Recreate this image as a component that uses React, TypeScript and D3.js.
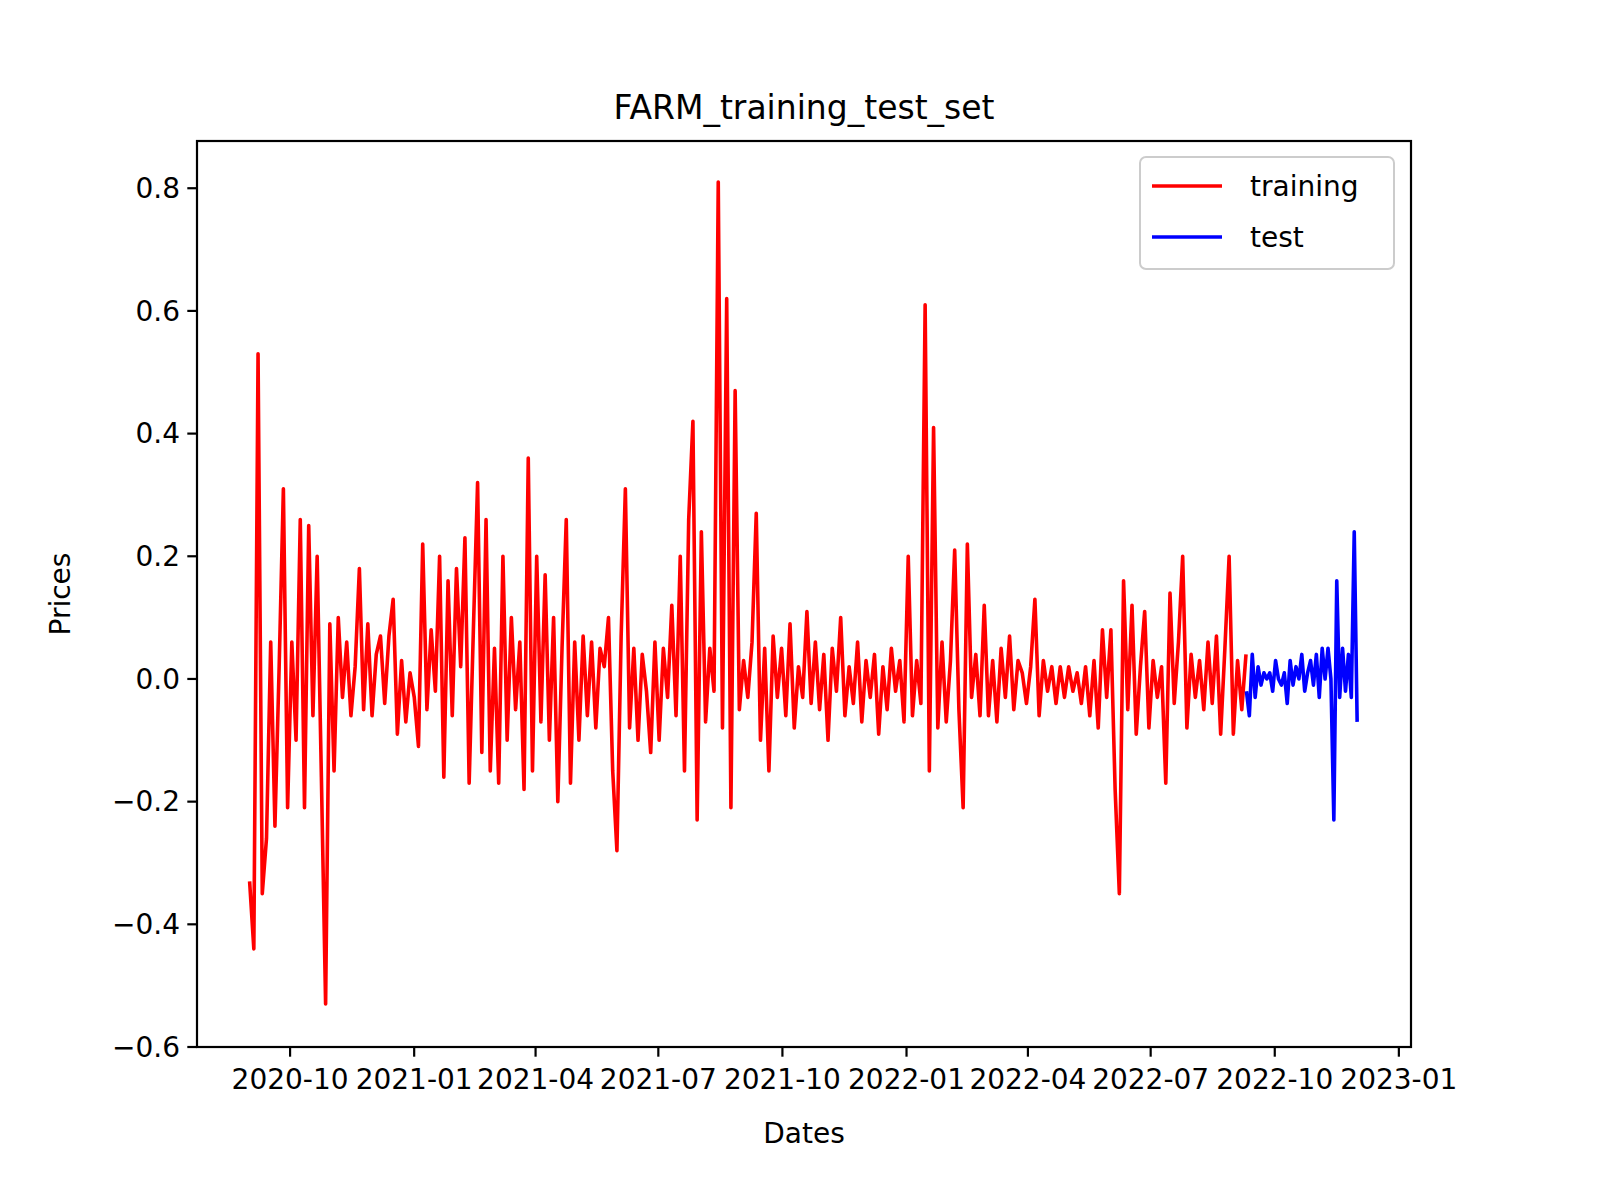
import React from "react";
import * as d3 from "d3";

const trainStart = "2020-09-01";
const trainStepDays = 3.13;
const testStart = "2022-09-10";
const testStepDays = 2.16;
const trainValues = [
-0.33,-0.44,0.53,-0.35,-0.26,0.06,-0.24,0.02,0.31,-0.21,0.06,-0.10,0.26,-0.21,0.25,-0.06,0.20,-0.16,-0.53,0.09,
-0.15,0.10,-0.03,0.06,-0.06,0.02,0.18,-0.05,0.09,-0.06,0.04,0.07,-0.04,0.07,0.13,-0.09,0.03,-0.07,0.01,-0.03,
-0.11,0.22,-0.05,0.08,-0.02,0.20,-0.16,0.16,-0.06,0.18,0.02,0.23,-0.17,0.08,0.32,-0.12,0.26,-0.15,0.05,-0.17,
0.20,-0.10,0.10,-0.05,0.06,-0.18,0.36,-0.15,0.20,-0.07,0.17,-0.10,0.10,-0.20,0.05,0.26,-0.17,0.06,-0.10,0.07,
-0.06,0.06,-0.08,0.05,0.02,0.10,-0.15,-0.28,0.07,0.31,-0.08,0.05,-0.10,0.04,-0.02,-0.12,0.06,-0.10,0.05,-0.03,
0.12,-0.06,0.20,-0.15,0.26,0.42,-0.23,0.24,-0.07,0.05,-0.02,0.81,-0.08,0.62,-0.21,0.47,-0.05,0.03,-0.03,0.06,
0.27,-0.10,0.05,-0.15,0.07,-0.03,0.05,-0.06,0.09,-0.08,0.02,-0.03,0.11,-0.04,0.06,-0.05,0.04,-0.10,0.05,-0.02,
0.10,-0.06,0.02,-0.04,0.06,-0.07,0.03,-0.03,0.04,-0.09,0.02,-0.05,0.05,-0.02,0.03,-0.07,0.20,-0.06,0.03,-0.04,
0.61,-0.15,0.41,-0.08,0.06,-0.07,0.03,0.21,-0.05,-0.21,0.22,-0.03,0.04,-0.06,0.12,-0.06,0.03,-0.07,0.05,-0.03,
0.07,-0.05,0.03,0.01,-0.04,0.02,0.13,-0.06,0.03,-0.02,0.02,-0.04,0.02,-0.03,0.02,-0.02,0.01,-0.04,0.02,-0.06,
0.03,-0.08,0.08,-0.03,0.08,-0.18,-0.35,0.16,-0.05,0.12,-0.09,0.02,0.11,-0.08,0.03,-0.03,0.02,-0.17,0.14,-0.04,
0.06,0.20,-0.08,0.04,-0.03,0.03,-0.05,0.06,-0.04,0.07,-0.09,0.05,0.20,-0.09,0.03,-0.05,0.04
];
const testValues = [
-0.02,-0.06,0.04,-0.03,0.02,-0.01,0.01,0.00,0.01,-0.02,0.03,0.00,-0.01,0.01,-0.04,0.03,-0.01,0.02,0.00,0.04,
-0.02,0.01,0.03,-0.01,0.04,-0.03,0.05,0.00,0.05,0.00,-0.23,0.16,-0.03,0.05,-0.02,0.04,-0.03,0.24,-0.07
];
const yTicks = [-0.6, -0.4, -0.2, 0.0, 0.2, 0.4, 0.6, 0.8];
const xTickLabels = ["2020-10","2021-01","2021-04","2021-07","2021-10","2022-01","2022-04","2022-07","2022-10","2023-01"];

const W = 1600, H = 1200;
const L = 197, R = 1411, T = 141, B = 1047;
const FONT = "DejaVu Sans";
const DAY = 864e5;

export default function App() {
  const parse = d3.timeParse("%Y-%m-%d");
  const t0 = parse(trainStart)!.getTime();
  const s0 = parse(testStart)!.getTime();
  const train = trainValues.map((v, i) => ({ d: new Date(t0 + i * trainStepDays * DAY), v }));
  const test = testValues.map((v, i) => ({ d: new Date(s0 + i * testStepDays * DAY), v }));
  const x = d3.scaleTime().domain([parse("2020-07-24")!, parse("2023-01-10")!]).range([L, R]);
  const y = d3.scaleLinear().domain([-0.6, 0.877]).range([B, T]);
  const line = d3.line<{ d: Date; v: number }>().x(p => x(p.d)).y(p => y(p.v));
  const xt = xTickLabels.map(s => parse(s + "-01")!);
  const fmt = (v: number) => (v < 0 ? "\u2212" : "") + Math.abs(v).toFixed(1);
  return (
    <svg width={W} height={H} style={{ position: "absolute", left: 0, top: 0, background: "#fff" }} fontFamily={FONT}>
      <rect x={0} y={0} width={W} height={H} fill="#fff" />
      <path d={line(train)!} fill="none" stroke="#ff0000" strokeWidth={3.6} strokeLinejoin="round" />
      <path d={line(test)!} fill="none" stroke="#0000ff" strokeWidth={3.6} strokeLinejoin="round" />
      <rect x={L} y={T} width={R - L} height={B - T} fill="none" stroke="#000" strokeWidth={2.2} />
      {yTicks.map(t => (
        <g key={t}>
          <line x1={L - 9.7} x2={L} y1={y(t)} y2={y(t)} stroke="#000" strokeWidth={2.2} />
          <text x={L - 17} y={y(t)} dy="0.35em" textAnchor="end" fontSize={28}>{fmt(t)}</text>
        </g>
      ))}
      {xt.map((d, i) => (
        <g key={i}>
          <line x1={x(d)} x2={x(d)} y1={B} y2={B + 9.7} stroke="#000" strokeWidth={2.2} />
          <text x={x(d)} y={B + 42} textAnchor="middle" fontSize={28}>{xTickLabels[i]}</text>
        </g>
      ))}
      <text x={(L + R) / 2} y={1143} textAnchor="middle" fontSize={28}>Dates</text>
      <text transform={`translate(70,${(T + B) / 2}) rotate(-90)`} textAnchor="middle" fontSize={28}>Prices</text>
      <text x={(L + R) / 2} y={119} textAnchor="middle" fontSize={33}>FARM_training_test_set</text>
      <rect x={1140} y={157} width={254} height={112} rx={6} fill="#fff" fillOpacity={0.8} stroke="#ccc" strokeWidth={2} />
      <line x1={1152} x2={1222} y1={186} y2={186} stroke="#ff0000" strokeWidth={3.6} />
      <text x={1250} y={186} dy="0.35em" fontSize={28}>training</text>
      <line x1={1152} x2={1222} y1={237} y2={237} stroke="#0000ff" strokeWidth={3.6} />
      <text x={1250} y={237} dy="0.35em" fontSize={28}>test</text>
    </svg>
  );
}
